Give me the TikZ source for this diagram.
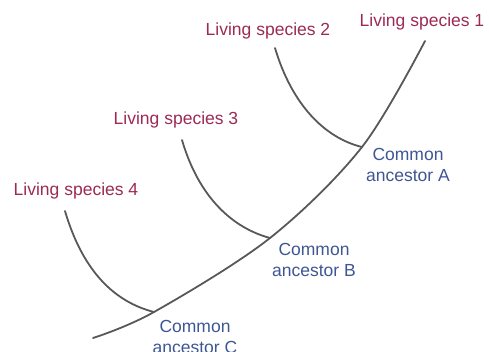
\documentclass[tikz,border=0pt]{standalone}
\usepackage{fontspec}
\setmainfont{Liberation Sans}
\definecolor{speciescol}{RGB}{156,42,84}
\definecolor{ancestorcol}{RGB}{62,86,148}
\definecolor{branchcol}{RGB}{88,88,88}
\tikzset{
  species/.style={text=speciescol,font=\fontsize{17.5}{20}\selectfont,inner sep=0pt},
  ancestor/.style={text=ancestorcol,font=\fontsize{17.5}{21}\selectfont,align=center,inner sep=0pt},
  branch/.style={draw=branchcol,line width=1.8pt,line cap=round}
}
\begin{document}
\begin{tikzpicture}[x=1pt,y=-1pt]
  \useasboundingbox (0,0) rectangle (489,351);
  % split points and free ends
  \coordinate (root) at (93,338);
  \coordinate (C) at (154,312);
  \coordinate (B) at (270,238);
  \coordinate (A) at (362,147);
  \coordinate (tip1) at (425,41);
  \coordinate (tip2) at (275,48);
  \coordinate (tip3) at (182,140);
  \coordinate (tip4) at (65,211);
  % labels
  \node[species] (sp1) at (422,22) {Living species 1};
  \node[species] (sp2) at (268,31) {Living species 2};
  \node[species] (sp3) at (176,120) {Living species 3};
  \node[species] (sp4) at (76,191) {Living species 4};
  \node[ancestor] (ancA) at (408,165) {Common\\ancestor A};
  \node[ancestor] (ancB) at (314,260) {Common\\ancestor B};
  \node[ancestor] (ancC) at (195,337) {Common\\ancestor C};
  % trunk
  \draw[branch] plot[smooth,tension=0.55] coordinates {(root) (C) (B) (A) (tip1)};
  % side branches
  \draw[branch] (tip2) .. controls (292,105) and (325,138) .. (A);
  \draw[branch] (tip3) .. controls (199,198) and (233,228) .. (B);
  \draw[branch] (tip4) .. controls (83,272) and (115,302) .. (C);
\end{tikzpicture}
\end{document}
